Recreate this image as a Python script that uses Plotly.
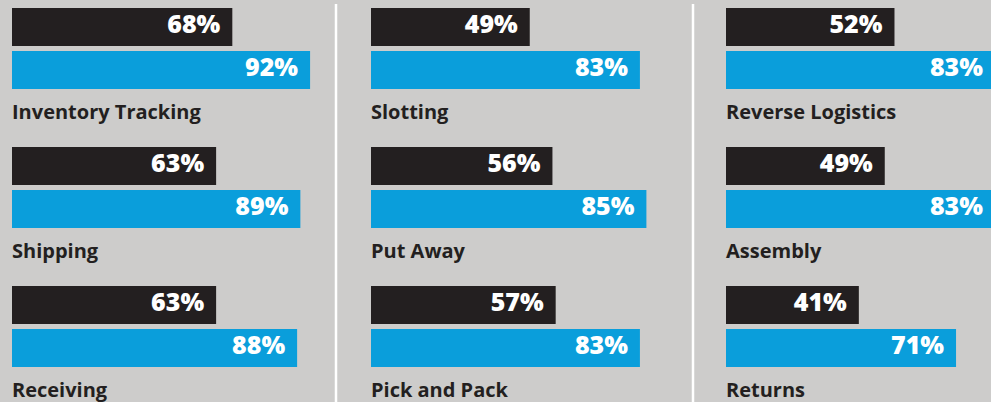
import plotly.graph_objects as go

# ---- data ----
col1_labels = ["Inventory Tracking", "Shipping", "Receiving"]
col1_black = [68, 63, 63]
col1_blue = [92, 89, 88]

col2_labels = ["Slotting", "Put Away", "Pick and Pack"]
col2_black = [49, 56, 57]
col2_blue = [83, 85, 83]

col3_labels = ["Reverse Logistics", "Assembly", "Returns"]
col3_black = [52, 49, 41]
col3_blue = [83, 83, 71]

# ---- styling / layout constants ----
W, H = 991, 402
BG = "#cdcccb"
BLACK = "#231f20"
BLUE = "#0a9edb"
PX_PER_PCT = 3.24
ROW = 139
BLACK_C = 27
BLUE_C = 70
LABEL_C = 111
BAR_W = 38
PAD = 12 / PX_PER_PCT
FONT = "Open Sans"

cols = [
    (col1_labels, col1_black, col1_blue, "x", 12),
    (col2_labels, col2_black, col2_blue, "x2", 371),
    (col3_labels, col3_black, col3_blue, "x3", 726),
]

fig = go.Figure()
annotations = []
for labels, blk, blu, xname, x0px in cols:
    n = len(labels)
    yb = [BLACK_C + ROW * i for i in range(n)]
    yu = [BLUE_C + ROW * i for i in range(n)]
    yl = [LABEL_C + ROW * i for i in range(n)]
    fig.add_trace(go.Bar(x=blk, y=yb, orientation="h", width=BAR_W,
                         marker=dict(color=BLACK, line=dict(width=0)),
                         xaxis=xname, yaxis="y", showlegend=False, hoverinfo="skip"))
    fig.add_trace(go.Bar(x=blu, y=yu, orientation="h", width=BAR_W,
                         marker=dict(color=BLUE, line=dict(width=0)),
                         xaxis=xname, yaxis="y", showlegend=False, hoverinfo="skip"))
    fig.add_trace(go.Scatter(x=[v - PAD for v in blk + blu], y=yb + yu, mode="text",
                             text=[f"{v}%" for v in blk + blu], textposition="middle left",
                             textfont=dict(family=FONT, size=25, color="white", weight=800),
                             cliponaxis=False, xaxis=xname, yaxis="y",
                             showlegend=False, hoverinfo="skip"))
    for lab, y in zip(labels, yl):
        annotations.append(dict(x=0, y=y, xref=xname, yref="y", text=lab,
                                xanchor="left", yanchor="middle", showarrow=False,
                                xshift=-2,
                                font=dict(family=FONT, size=20, color=BLACK, weight=700)))

def dom(x0px, rng_max):
    x1px = min(W, x0px + rng_max * PX_PER_PCT)
    return [x0px / W, x1px / W], [0, (x1px - x0px) / PX_PER_PCT]

axcommon = dict(showgrid=False, zeroline=False, showticklabels=False, showline=False, ticks="")
d1, r1 = dom(12, 100)
d2, r2 = dom(371, 100)
d3, r3 = dom(726, 100)

fig.update_layout(
    width=W, height=H,
    margin=dict(l=0, r=0, t=0, b=0),
    paper_bgcolor=BG, plot_bgcolor=BG,
    barmode="overlay",
    xaxis=dict(domain=d1, range=r1, anchor="y", **axcommon),
    xaxis2=dict(domain=d2, range=r2, anchor="y", **axcommon),
    xaxis3=dict(domain=d3, range=r3, anchor="y", **axcommon),
    yaxis=dict(domain=[0, 1], range=[H, 0], **axcommon),
    annotations=annotations,
    shapes=[
        dict(type="line", xref="paper", yref="paper", x0=336 / W, x1=336 / W,
             y0=0, y1=1 - 4 / H, line=dict(color="white", width=2.5)),
        dict(type="line", xref="paper", yref="paper", x0=693 / W, x1=693 / W,
             y0=0, y1=1 - 4 / H, line=dict(color="white", width=2.5)),
    ],
)

fig.write_html(
    "out.html",
    config={"displayModeBar": False},
    post_script="document.body.style.margin='0';document.body.style.overflow='hidden';",
)
